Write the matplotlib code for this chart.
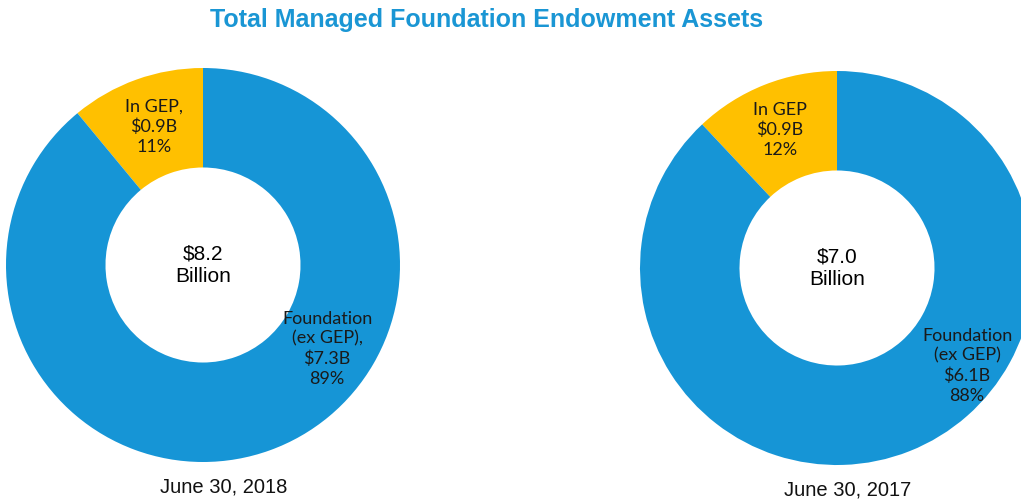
import matplotlib.pyplot as plt

# data
years = ["June 30, 2018", "June 30, 2017"]
totals = ["$8.2\nBillion", "$7.0\nBillion"]
gep_pct = [11, 12]
fdn_pct = [89, 88]
gep_labels = ["In GEP,\n$0.9B\n11%", "In GEP\n$0.9B\n12%"]
fdn_labels = ["Foundation\n(ex GEP),\n$7.3B\n89%", "Foundation\n(ex GEP)\n$6.1B\n88%"]

BLUE = "#1695d6"
GOLD = "#ffc000"
W, H = 1021, 503

fig = plt.figure(figsize=(W / 100, H / 100), dpi=100)
ax = fig.add_axes([0, 0, 1, 1])

# layout in pixels (y from top)
centres = [(203, 265), (837, 268)]
radius = 197
gep_pos = [(154, 127), (780, 130)]
fdn_pos = [(327, 349), (967, 366)]
date_pos = [(224, 487), (848, 490)]

for i in range(2):
    cx, cy = centres[i]
    ax.pie([gep_pct[i], fdn_pct[i]], colors=[GOLD, BLUE], startangle=90,
           counterclock=True, center=(cx, H - cy), radius=radius, frame=True,
           wedgeprops=dict(width=radius * 0.505, linewidth=0))
    ax.text(cx, H - cy, totals[i], ha="center", va="center", fontsize=15,
            family="Liberation Sans", linespacing=1.25)
    x, y = gep_pos[i]
    ax.text(x, H - y, gep_labels[i], ha="center", va="center", fontsize=13,
            family="Lato", color="#1a1a1a", linespacing=1.3)
    x, y = fdn_pos[i]
    ax.text(x, H - y, fdn_labels[i], ha="center", va="center", fontsize=13,
            family="Lato", color="#1a1a1a", linespacing=1.3)
    x, y = date_pos[i]
    ax.text(x, H - y, years[i], ha="center", va="center", fontsize=14.5,
            family="Liberation Sans", color="#111111")

ax.text(487, H - 20, "Total Managed Foundation Endowment Assets", ha="center",
        va="center", fontsize=18, fontweight="bold", family="Liberation Sans",
        color="#1a96d4")

ax.set_xlim(0, W)
ax.set_ylim(0, H)
ax.set_aspect("equal")
ax.axis("off")

fig.savefig("out.png", dpi=100)
